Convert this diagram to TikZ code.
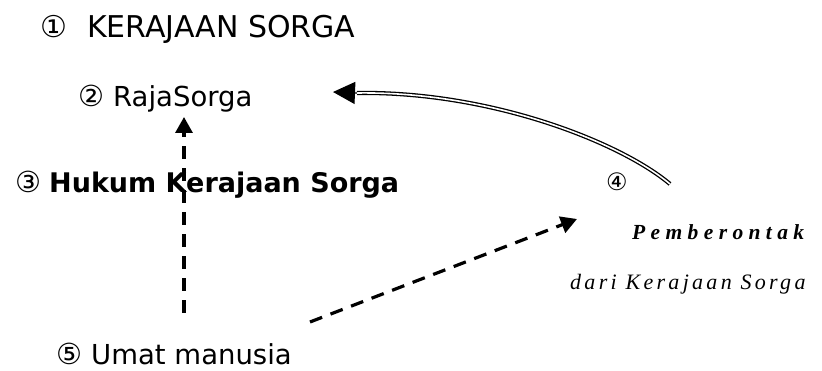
\documentclass[tikz,border=0pt]{standalone}
\usepackage{fontspec}
\setmainfont{DejaVu Sans}
\newfontfamily\handfont{Liberation Serif}
\usetikzlibrary{arrows.meta}
\newcommand{\fsz}[1]{\fontsize{#1}{#1}\selectfont}
\begin{document}
\begin{tikzpicture}[x=1pt,y=-1pt,
  lbl/.style={anchor=base west, inner sep=0pt, text=black},
  dasharrow/.style={line width=3.2pt, dash pattern=on 13pt off 9pt, -{Triangle[length=16pt,width=17pt]}},
  dblline/.style={double=white, double distance=1.6pt, line width=1.3pt}]
\useasboundingbox (0,0) rectangle (822,371);
\node[lbl, font=\fsz{30}] (n1) at (40,38) {{\fsz{30}①}\hspace{20pt}KERAJAAN SORGA};
\node[lbl, font=\fsz{27.5}] (n2) at (78,107) {{\fsz{29}②}\hspace{9pt}RajaSorga};
\node[lbl, font=\fsz{27}\bfseries] (n3) at (15,193) {{\mdseries\fsz{29}③}\hspace{8pt}Hukum Kerajaan Sorga};
\node[lbl, font=\fsz{24}] (n4) at (606,191) {④};
\node[lbl, font=\fsz{21.5}\handfont\bfseries\itshape\addfontfeatures{LetterSpace=25}] (n6) at (632,240) {Pemberontak};
\node[lbl, font=\fsz{22}\handfont\itshape\addfontfeatures{LetterSpace=15}] (n7) at (570,290) {dari Kerajaan Sorga};
\node[lbl, font=\fsz{27.5}] (n5) at (56,364) {{\fsz{29}⑤}\hspace{9pt}Umat manusia};
\coordinate (v0) at (184,313);
\coordinate (v1) at (184,117);
\coordinate (d0) at (310,322);
\coordinate (d1) at (577,219);
\coordinate (c0) at (670,184);
\coordinate (c1) at (357,93);
\coordinate (c2) at (333,92);
\draw[dasharrow] (v0) -- (v1);
\draw[dasharrow] (d0) -- (d1);
\draw[dblline] (c0) .. controls (620,142) and (490,91) .. (c1);
\draw[line width=1.2pt, -{Triangle[length=22pt,width=22pt]}] (c1) -- (c2);
\end{tikzpicture}
\end{document}
